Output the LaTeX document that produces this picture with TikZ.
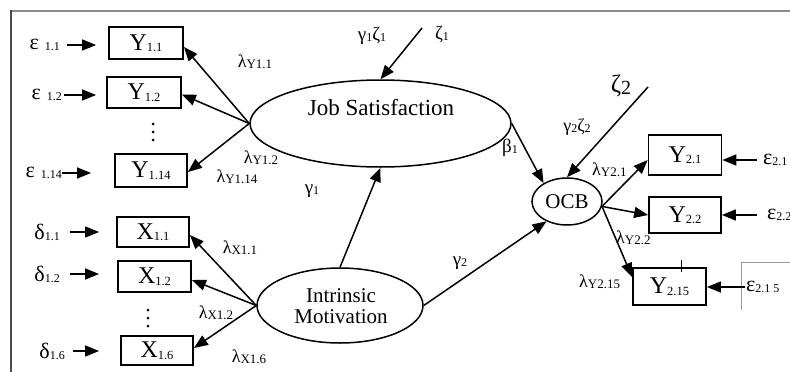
\documentclass[tikz,border=0pt]{standalone}
\usepackage{fontspec}
\setmainfont{Liberation Serif}
\usetikzlibrary{arrows.meta,shapes.geometric,calc}
\newcommand{\fs}[2]{{\fontsize{#1}{#1}\selectfont #2}}
\newcommand{\vsub}[2]{\fs{24}{#1}\raisebox{-1.5pt}{\fs{12.5}{#2}}}
\newcommand{\esub}[2]{\fs{22}{#1}\hspace{6pt}\raisebox{-1pt}{\fs{12}{#2}}}
\newcommand{\dsub}[2]{\fs{22}{#1}\raisebox{-1pt}{\fs{12}{#2}}}
\newcommand{\lsub}[1]{\fs{18}{λ}\raisebox{-1pt}{\fs{13}{#1}}}
\newcommand{\gsub}[3]{\fs{#1}{#2}\raisebox{-1pt}{\fs{12}{#3}}}
\begin{document}
\begin{tikzpicture}[x=1pt,y=-1pt,
  box/.style={draw,line width=1.8pt,inner sep=0pt},
  lat/.style={draw,ellipse,line width=1.5pt,inner sep=0pt},
  lbl/.style={inner sep=0pt},
  arr/.style={line width=1.5pt,-{Triangle[length=14pt,width=11pt]}}]
\useasboundingbox (0,0) rectangle (790,372);
\clip (0,0) rectangle (790,372);
\fill[white] (0,0) rectangle (790,372);
% frame
\draw[black!45,line width=2.5pt] (11,11) -- (795,11);
\draw[black!70,line width=1.5pt] (11,10) -- (11,380);
\draw[black!40,line width=0.8pt] (800,262) -- (741,262) -- (741,310);

% indicator boxes
\node[box,minimum width=74pt,minimum height=32pt] (Y11) at (146,43) {\vsub{Y}{1.1}};
\node[box,minimum width=74pt,minimum height=31pt] (Y12) at (144,92.5) {\vsub{Y}{1.2}};
\node[box,minimum width=72pt,minimum height=33pt] (Y114) at (151,170.5) {\vsub{Y}{1.14}};
\node[box,minimum width=72pt,minimum height=30pt] (X11) at (153,232) {\vsub{X}{1.1}};
\node[box,minimum width=73pt,minimum height=31pt] (X12) at (154.5,276.5) {\vsub{X}{1.2}};
\node[box,minimum width=72pt,minimum height=29pt] (X16) at (157,350.5) {\vsub{X}{1.6}};
\node[box,minimum width=73pt,minimum height=40pt] (Y21) at (685,155) {\vsub{Y}{2.1}};
\node[box,minimum width=72pt,minimum height=36pt] (Y22) at (685,215) {\vsub{Y}{2.2}};
\node[box,minimum width=73pt,minimum height=37pt] (Y215) at (669.5,286.5) {\vsub{Y}{2.15}};
\draw[line width=0.8pt] ([xshift=11.5pt,yshift=7pt]Y215.north) -- ([xshift=11.5pt,yshift=-5pt]Y215.north);

% dots
\foreach \yy in {124,132,140} \fill (153,\yy) circle (1.5pt);
\foreach \yy in {310,318,326} \fill (148,\yy) circle (1.5pt);

% latent variables
\node[lat,minimum width=261pt,minimum height=87pt] (JS) at (380.5,123.5) {};
\node[lbl] (JSt) at (381,108) {\fs{23}{Job Satisfaction}};
\node[lat,minimum width=166pt,minimum height=75pt] (IM) at (340,305.5) {};
\node[lbl,align=center,font=\fontsize{21}{21}\selectfont] (IMt) at (341,306) {Intrinsic\\Motivation};
\node[lat,minimum width=70pt,minimum height=47pt] (OCB) at (567,201.5) {};
\node[lbl] (OCBt) at (567,202) {\fs{21}{OCB}};

% error terms
\node[lbl,anchor=east] (e11) at (60,45) {\esub{ε}{1.1}};
\node[lbl,anchor=east] (e12) at (62,95) {\esub{ε}{1.2}};
\node[lbl,anchor=east] (e114) at (62,173) {\esub{ε}{1.14}};
\node[lbl,anchor=east] (d11) at (60,232) {\dsub{δ}{1.1}};
\node[lbl,anchor=east] (d12) at (60,274) {\dsub{δ}{1.2}};
\node[lbl,anchor=east] (d16) at (65,351) {\dsub{δ}{1.6}};
\node[lbl,anchor=west] (e21) at (763,160) {\dsub{ε}{2.1}};
\node[lbl,anchor=west] (e22) at (767,215) {\dsub{ε}{2.2}};
\node[lbl,anchor=west] (e215) at (746,287) {\dsub{ε}{2.1 5}};

\draw[arr,shorten <=7pt,shorten >=12pt] (e11.east) -- (e11.east -| Y11.west);
\draw[arr,shorten <=2pt,shorten >=10pt] (e12.east) -- (e12.east -| Y12.west);
\draw[arr,shorten >=23pt] (e114.east) -- (e114.east -| Y114.west);
\draw[arr,shorten <=10pt,shorten >=17pt] (d11.east) -- (d11.east -| X11.west);
\draw[arr,shorten <=10pt,shorten >=18pt] (d12.east) -- (d12.east -| X12.west);
\draw[arr,shorten <=8pt,shorten >=21pt] (d16.east) -- (d16.east -| X16.west);
\draw[arr,shorten <=6pt] (e21.west) -- (e21.west -| Y21.east);
\draw[arr,shorten <=10pt] (e22.west) -- (e22.west -| Y22.east);
\draw[arr,shorten <=1pt] (e215.west) -- (e215.west -| Y215.east);

% loadings
\draw[arr] (JS.west) -- ([yshift=-4pt]Y11.east);
\draw[arr] (JS.west) -- ([yshift=-2pt]Y12.east);
\draw[arr] (JS.west) -- ([yshift=-1.5pt]Y114.east);
\draw[arr] (IM.west) -- ([yshift=-3pt]X11.east);
\draw[arr] (IM.west) -- ([yshift=-3.5pt]X12.east);
\draw[arr] (IM.west) -- ([yshift=2.5pt]X16.east);
\draw[arr] (OCB.-8) -- ([yshift=-5pt]Y21.west);
\draw[arr] (OCB.-8) -- (Y22.west);
\draw[arr] (OCB.-8) -- ([yshift=9.5pt]Y215.west);

% structural paths
\draw[arr] (IM.north) -- (JS.south);
\draw[arr] (JS.east) -- (OCB.142);
\draw[arr] (IM.east) -- (OCB.224);
\coordinate (z1s) at (422,28);
\draw[arr] (z1s) -- (JS.north);
\coordinate (z2s) at (648,87);
\draw[arr] (z2s) -- (OCB.north);

% labels
\node[lbl] (lY11) at (255,62) {\lsub{Y1.1}};
\node[lbl] (lY12) at (261,158) {\lsub{Y1.2}};
\node[lbl] (lY114) at (237,177) {\lsub{Y1.14}};
\node[lbl] (lX11) at (240,248) {\lsub{X1.1}};
\node[lbl] (lX12) at (216,313) {\lsub{X1.2}};
\node[lbl] (lX16) at (249,357) {\lsub{X1.6}};
\node[lbl,anchor=west] (lY21) at (592,170) {\lsub{Y2.1}};
\node[lbl,anchor=west] (lY22) at (616,238) {\lsub{Y2.2}};
\node[lbl,anchor=west] (lY215) at (579,282) {\lsub{Y2.15}};
\node[lbl] (g1z1) at (372,36) {\gsub{19}{γ}{1}\gsub{19}{ζ}{1}};
\node[lbl] (z1) at (442,35) {\gsub{19}{ζ}{1}};
\node[lbl] (z2) at (621,86) {\fs{25}{ζ}\raisebox{-2pt}{\fs{20}{2}}};
\node[lbl] (g2z2) at (577,127) {\gsub{18}{γ}{2}\gsub{18}{ζ}{2}};
\node[lbl] (b1) at (510,148) {\gsub{19}{β}{1}};
\node[lbl] (g1) at (312,191) {\gsub{19}{γ}{1}};
\node[lbl] (g2) at (460,263) {\gsub{19}{γ}{2}};
\end{tikzpicture}
\end{document}
